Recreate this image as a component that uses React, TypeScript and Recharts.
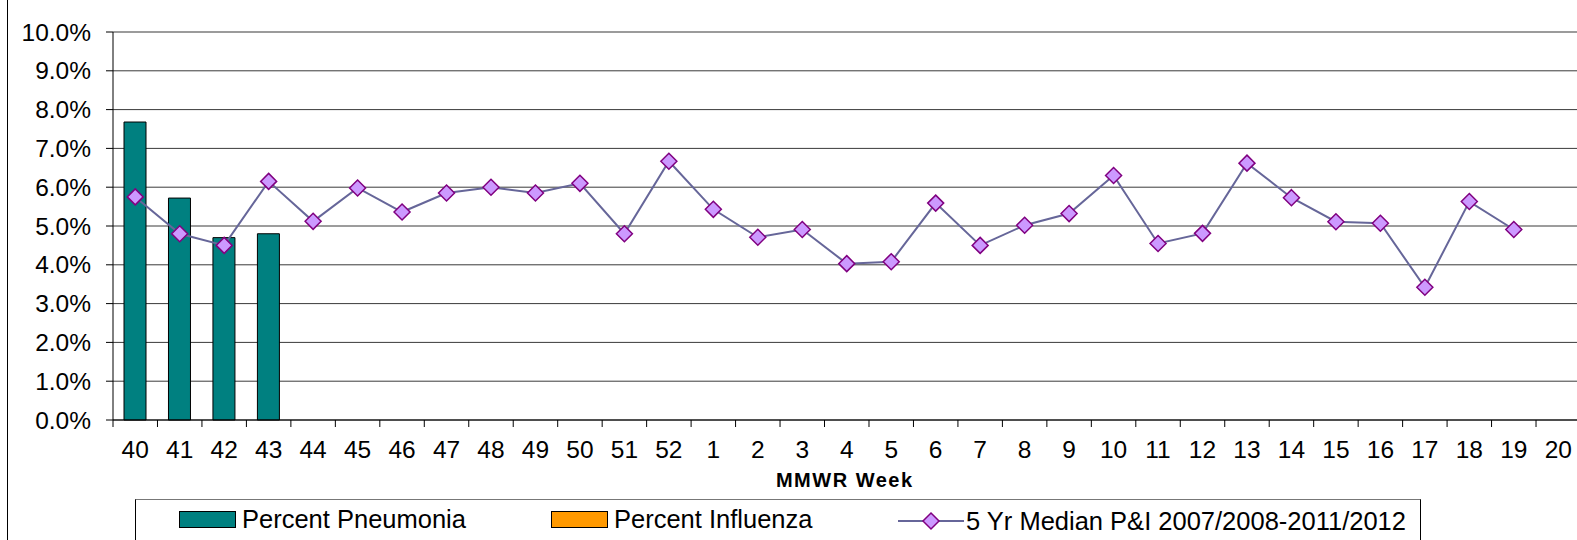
import React from 'react';
import {
  ComposedChart,
  Bar,
  Line,
  XAxis,
  YAxis,
  CartesianGrid,
  Legend,
  Label,
  ReferenceLine,
} from 'recharts';

const weeks = [
  '40', '41', '42', '43', '44', '45', '46', '47', '48', '49', '50', '51', '52',
  '1', '2', '3', '4', '5', '6', '7', '8', '9', '10', '11', '12', '13', '14',
  '15', '16', '17', '18', '19', '20',
];
const pneumonia = [7.68, 5.72, 4.7, 4.8];
const influenza = [0, 0, 0, 0];
const median = [
  5.75, 4.8, 4.5, 6.15, 5.12, 5.98, 5.36, 5.85, 6.0, 5.85, 6.1, 4.8, 6.67,
  5.43, 4.71, 4.91, 4.03, 4.08, 5.59, 4.5, 5.02, 5.32, 6.3, 4.55, 4.81, 6.62,
  5.73, 5.11, 5.07, 3.42, 5.63, 4.91, null,
];
const yTicks = [0, 1, 2, 3, 4, 5, 6, 7, 8, 9, 10];
const legendOrder = ['pneumonia', 'influenza', 'median'];

const data = weeks.map((w, i) => ({
  week: w,
  pneumonia: i < pneumonia.length ? pneumonia[i] : null,
  influenza: i < influenza.length ? influenza[i] : null,
  median: median[i],
}));

const FONT = '"Liberation Sans", Arial, sans-serif';
const CHART_W = 1600;
const MARGIN = { top: 32, right: 27.5, left: 0, bottom: 50 };
const Y_W = 105;
const BAND = (CHART_W - MARGIN.right - MARGIN.left - Y_W) / weeks.length;

const WeekTick = (props: any) => {
  const { x, y, payload } = props;
  return (
    <g>
      <line x1={x - BAND / 2} x2={x - BAND / 2} y1={y} y2={y + 7} stroke="#000" />
      <text x={x} y={y + 21} dy="0.71em" textAnchor="middle" fontSize={24.5} fontFamily={FONT} fill="#000">
        {payload.value}
      </text>
    </g>
  );
};

const Diamond = (props: any) => {
  const { cx, cy, index } = props;
  if (cx == null || cy == null) return <g key={index} />;
  const r = 8;
  return (
    <path
      key={index}
      d={`M${cx},${cy - r}L${cx + r},${cy}L${cx},${cy + r}L${cx - r},${cy}Z`}
      fill="#CC99FF"
      stroke="#800080"
      strokeWidth={1.5}
    />
  );
};

const LegendBox = (props: any) => {
  const raw = props.payload || [];
  const items = legendOrder
    .map((k) => raw.find((p: any) => p.dataKey === k))
    .filter(Boolean);
  const pos = [43, 415, 762];
  return (
    <div
      style={{
        position: 'relative',
        width: 1286,
        height: 60,
        boxSizing: 'border-box',
        borderTop: '1px solid #777',
        borderLeft: '1px solid #000',
        borderRight: '1px solid #000',
        fontFamily: FONT,
        fontSize: 25.5,
        color: '#000',
      }}
    >
      {items.map((it: any, i: number) => (
        <div key={i} style={{ position: 'absolute', left: pos[i], top: 5, display: 'flex', alignItems: 'center', whiteSpace: 'nowrap' }}>
          {it.dataKey === 'median' ? (
            <svg width={66} height={32}>
              <line x1={0} x2={66} y1={16} y2={16} stroke="#666699" strokeWidth={2} />
              <path d="M33,8L41,16L33,24L25,16Z" fill="#CC99FF" stroke="#800080" strokeWidth={1.5} />
            </svg>
          ) : (
            <div style={{ width: 55, height: 15, background: it.color, border: '1px solid #000', marginRight: 6 }} />
          )}
          <span style={{ marginLeft: it.dataKey === 'median' ? 2 : 0 }}>{it.value}</span>
        </div>
      ))}
    </div>
  );
};

export default function App() {
  return (
    <div
      style={{
        marginLeft: 7,
        width: 1570,
        height: 540,
        borderLeft: '1px solid #000',
        overflow: 'hidden',
        position: 'relative',
        background: '#fff',
      }}
    >
      <style>{'html,body{margin:0;padding:0;overflow:hidden;}'}</style>
      <ComposedChart width={CHART_W} height={540} data={data} margin={MARGIN} barSize={22}>
        <CartesianGrid vertical={false} stroke="#3a3a3a" />
        <ReferenceLine y={10} stroke="#999" />
        <XAxis
          dataKey="week"
          height={70}
          tick={<WeekTick />}
          tickLine={false}
          tickSize={0}
          tickMargin={0}
          interval={0}
          axisLine={{ stroke: '#000' }}
        >
          <Label
            content={(p: any) => (
              <text
                x={p.viewBox.x + p.viewBox.width / 2 - 2}
                y={p.viewBox.y + 67}
                textAnchor="middle"
                fontFamily={FONT}
                fontWeight="bold"
                fontSize={20}
                letterSpacing={1.5}
                fill="#000"
              >
                MMWR Week
              </text>
            )}
          />
        </XAxis>
        <YAxis
          width={Y_W}
          domain={[0, 10]}
          ticks={yTicks}
          interval={0}
          tickFormatter={(v: number) => v.toFixed(1) + '%'}
          tick={{ fontSize: 24.5, fontFamily: FONT, fill: '#000' }}
          tickSize={7}
          tickMargin={15}
          tickLine={{ stroke: '#000' }}
          axisLine={{ stroke: '#000' }}
        />
        <Legend
          verticalAlign="middle"
          align="center"
          wrapperStyle={{ top: 499, left: 127, width: 1286, height: 60 }}
          content={<LegendBox />}
        />
        <Bar dataKey="pneumonia" name="Percent Pneumonia" stackId="a" fill="#008080" stroke="#000" strokeWidth={1} isAnimationActive={false} />
        <Bar dataKey="influenza" name="Percent Influenza" stackId="a" fill="#FF9900" stroke="#000" strokeWidth={1} isAnimationActive={false} />
        <Line
          dataKey="median"
          name="5 Yr Median P&I 2007/2008-2011/2012"
          type="linear"
          stroke="#666699"
          strokeWidth={2}
          dot={<Diamond />}
          legendType="line"
          isAnimationActive={false}
        />
      </ComposedChart>
    </div>
  );
}
